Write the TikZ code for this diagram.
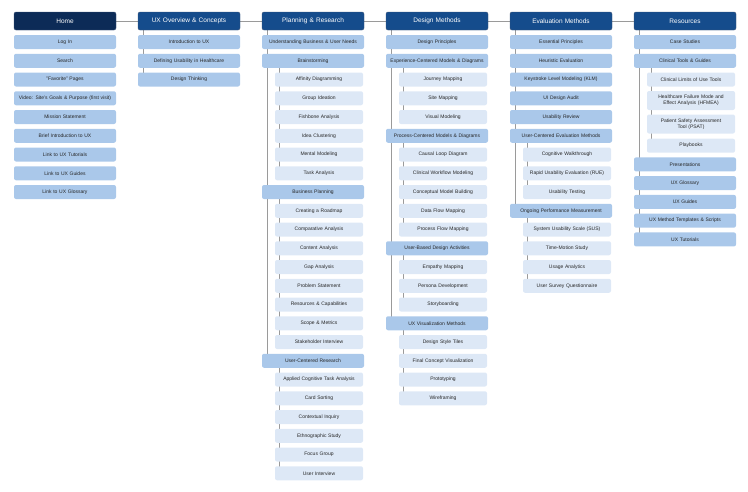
\documentclass[tikz,border=0pt]{standalone}
\usepackage{fontspec}
\setmainfont{Liberation Sans}
\usetikzlibrary{backgrounds}
\definecolor{navy}{HTML}{0C2B57}
\definecolor{hdr}{HTML}{154C8C}
\definecolor{lonef}{HTML}{AAC8EA}
\definecolor{ltwof}{HTML}{DDE8F6}
\definecolor{linec}{HTML}{9A9A9A}
\tikzset{
 base/.style={rounded corners=2pt, align=center, inner sep=1pt, font=\fontsize{5}{6}\selectfont, text=black!85},
 hbox/.style={base, fill=hdr, draw=navy!80, line width=0.4pt, minimum width=102pt, text width=98pt, minimum height=18pt, text=white, font=\fontsize{6.5}{7.5}\selectfont},
 lone/.style={base, fill=lonef, minimum width=102pt, text width=98pt, minimum height=14pt},
 ltwo/.style={base, fill=ltwof, minimum width=88pt, text width=86pt, minimum height=14pt},
 conn/.style={draw=linec, line width=0.9pt},
}
\newcommand\Lone[4]{\node[lone] (#1) at ({#2+51},{42+18.75*#3}) {#4};}
\newcommand\Ltwo[4]{\node[ltwo] (#1) at ({#2+57},{42+18.75*#3}) {#4};}
\begin{document}
\begin{tikzpicture}[x=1pt,y=-1pt]
\useasboundingbox (0,0) rectangle (748,491);
% headers
\node[hbox, fill=navy] (h0) at (65,21) {Home};
\node[hbox] (h1) at (189,21) {UX Overview \& Concepts};
\node[hbox] (h2) at (313,21) {Planning \& Research};
\node[hbox] (h3) at (437,21) {Design Methods};
\node[hbox] (h4) at (561,21) {Evaluation Methods};
\node[hbox] (h5) at (685,21) {Resources};
% Home
\Lone{a0}{14}{0}{Log In}
\Lone{a1}{14}{1}{Search}
\Lone{a2}{14}{2}{"Favorite" Pages}
\Lone{a3}{14}{3}{Video: Site's Goals \& Purpose (first visit)}
\Lone{a4}{14}{4}{Mission Statement}
\Lone{a5}{14}{5}{Brief Introduction to UX}
\Lone{a6}{14}{6}{Link to UX Tutorials}
\Lone{a7}{14}{7}{Link to UX Guides}
\Lone{a8}{14}{8}{Link to UX Glossary}
% UX overview
\Lone{b0}{138}{0}{Introduction to UX}
\Lone{b1}{138}{1}{Defining Usability in Healthcare}
\Lone{b2}{138}{2}{Design Thinking}
% Planning
\Lone{c0}{262}{0}{Understanding Business \& User Needs}
\Lone{c1}{262}{1}{Brainstorming}
\Ltwo{c2}{262}{2}{Affinity Diagramming}
\Ltwo{c3}{262}{3}{Group Ideation}
\Ltwo{c4}{262}{4}{Fishbone Analysis}
\Ltwo{c5}{262}{5}{Idea Clustering}
\Ltwo{c6}{262}{6}{Mental Modeling}
\Ltwo{c7}{262}{7}{Task Analysis}
\Lone{c8}{262}{8}{Business Planning}
\Ltwo{c9}{262}{9}{Creating a Roadmap}
\Ltwo{c10}{262}{10}{Comparative Analysis}
\Ltwo{c11}{262}{11}{Content Analysis}
\Ltwo{c12}{262}{12}{Gap Analysis}
\Ltwo{c13}{262}{13}{Problem Statement}
\Ltwo{c14}{262}{14}{Resources \& Capabilities}
\Ltwo{c15}{262}{15}{Scope \& Metrics}
\Ltwo{c16}{262}{16}{Stakeholder Interview}
\Lone{c17}{262}{17}{User-Centered Research}
\Ltwo{c18}{262}{18}{Applied Cognitive Task Analysis}
\Ltwo{c19}{262}{19}{Card Sorting}
\Ltwo{c20}{262}{20}{Contextual Inquiry}
\Ltwo{c21}{262}{21}{Ethnographic Study}
\Ltwo{c22}{262}{22}{Focus Group}
\Ltwo{c23}{262}{23}{User Interview}
% Design
\Lone{d0}{386}{0}{Design Principles}
\Lone{d1}{386}{1}{Experience-Centered Models \& Diagrams}
\Ltwo{d2}{386}{2}{Journey Mapping}
\Ltwo{d3}{386}{3}{Site Mapping}
\Ltwo{d4}{386}{4}{Visual Modeling}
\Lone{d5}{386}{5}{Process-Centered Models \& Diagrams}
\Ltwo{d6}{386}{6}{Causal Loop Diagram}
\Ltwo{d7}{386}{7}{Clinical Workflow Modeling}
\Ltwo{d8}{386}{8}{Conceptual Model Building}
\Ltwo{d9}{386}{9}{Data Flow Mapping}
\Ltwo{d10}{386}{10}{Process Flow Mapping}
\Lone{d11}{386}{11}{User-Based Design Activities}
\Ltwo{d12}{386}{12}{Empathy Mapping}
\Ltwo{d13}{386}{13}{Persona Development}
\Ltwo{d14}{386}{14}{Storyboarding}
\Lone{d15}{386}{15}{UX Visualization Methods}
\Ltwo{d16}{386}{16}{Design Style Tiles}
\Ltwo{d17}{386}{17}{Final Concept Visualization}
\Ltwo{d18}{386}{18}{Prototyping}
\Ltwo{d19}{386}{19}{Wireframing}
% Evaluation
\Lone{e0}{510}{0}{Essential Principles}
\Lone{e1}{510}{1}{Heuristic Evaluation}
\Lone{e2}{510}{2}{Keystroke Level Modeling (KLM)}
\Lone{e3}{510}{3}{UI Design Audit}
\Lone{e4}{510}{4}{Usability Review}
\Lone{e5}{510}{5}{User-Centered Evaluation Methods}
\Ltwo{e6}{510}{6}{Cognitive Walkthrough}
\Ltwo{e7}{510}{7}{Rapid Usability Evaluation (RUE)}
\Ltwo{e8}{510}{8}{Usability Testing}
\Lone{e9}{510}{9}{Ongoing Performance Measurement}
\Ltwo{e10}{510}{10}{System Usability Scale (SUS)}
\Ltwo{e11}{510}{11}{Time-Motion Study}
\Ltwo{e12}{510}{12}{Usage Analytics}
\Ltwo{e13}{510}{13}{User Survey Questionnaire}
% Resources
\node[lone] (f0) at (685,42) {Case Studies};
\node[lone] (f1) at (685,60.75) {Clinical Tools \& Guides};
\node[ltwo] (f2) at (691,79.5) {Clinical Limits of Use Tools};
\node[ltwo, minimum height=19pt] (f3) at (691,100.5) {Healthcare Failure Mode and\\Effect Analysis (HFMEA)};
\node[ltwo, minimum height=19pt] (f4) at (691,124) {Patient Safety Assessment\\Tool (PSAT)};
\node[ltwo] (f5) at (691,145.7) {Playbooks};
\node[lone] (f6) at (685,164.4) {Presentations};
\node[lone] (f7) at (685,183.1) {UX Glossary};
\node[lone] (f8) at (685,201.9) {UX Guides};
\node[lone] (f9) at (685,220.6) {UX Method Templates \& Scripts};
\node[lone] (f10) at (685,239.4) {UX Tutorials};
\begin{scope}[on background layer]
\draw[conn] (h0.east) -- (h1.west) (h1.east) -- (h2.west) (h2.east) -- (h3.west) (h3.east) -- (h4.west) (h4.east) -- (h5.west);
\foreach \h/\l in {h1/b2, h2/c17, h3/d15, h4/e9, h5/f10}
  \draw[conn] ([xshift=6pt]\h.south west) -- ([xshift=6pt]\h.south west |- \l.center);
\foreach \p/\l in {c1/c7, c8/c16, c17/c23, d1/d4, d5/d10, d11/d14, d15/d19, e5/e8, e9/e13, f1/f5}
  \draw[conn] ([xshift=18pt]\p.south west) -- ([xshift=18pt]\p.south west |- \l.center);
\end{scope}
\end{tikzpicture}
\end{document}
